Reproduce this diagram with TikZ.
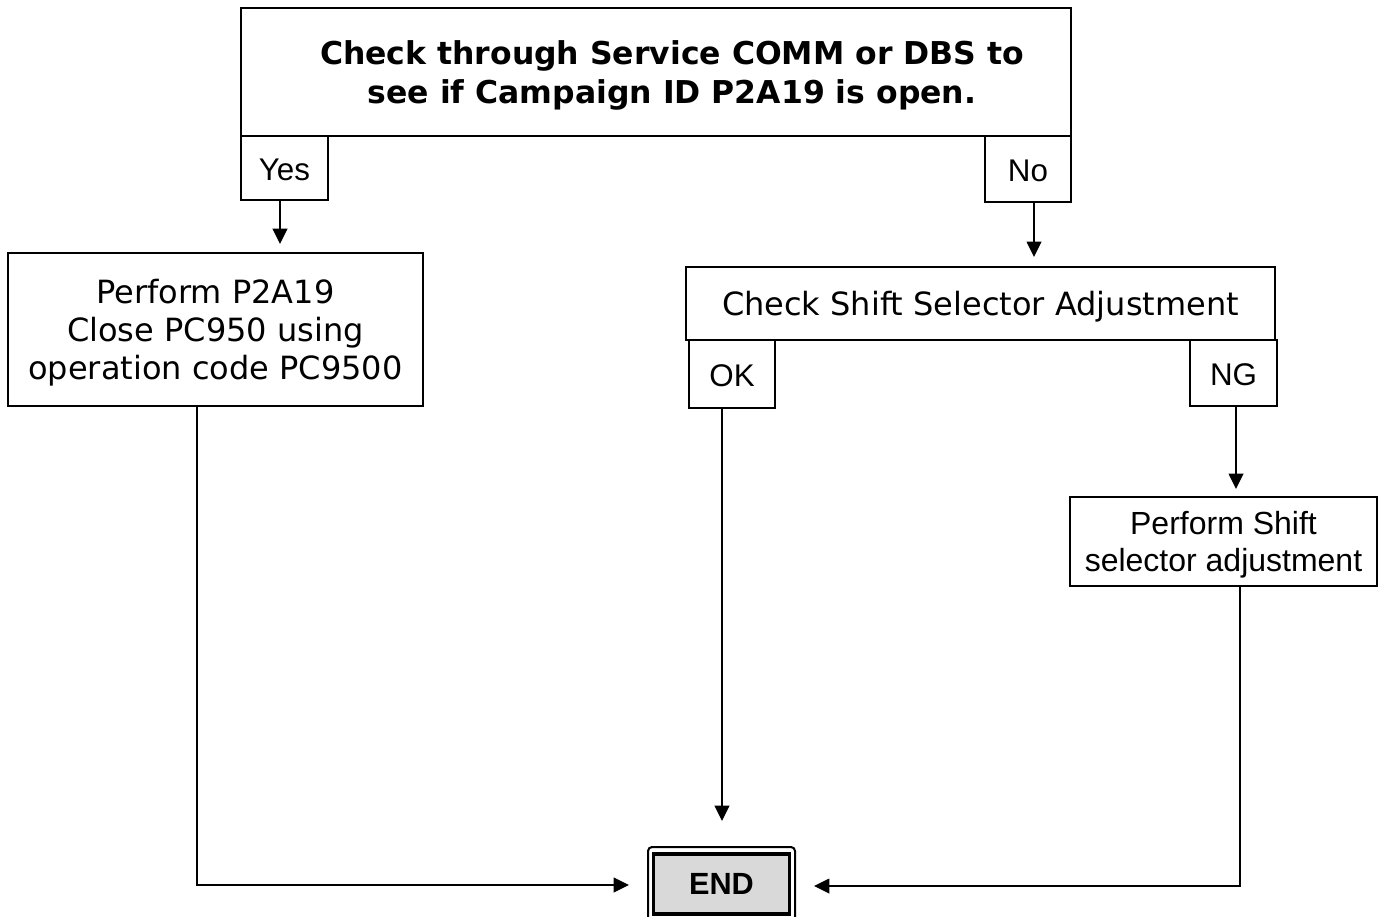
\documentclass[tikz,border=0pt]{standalone}
\usepackage{fontspec}
\newfontfamily\vfont{DejaVu Sans}
\newfontfamily\afont{Liberation Sans}
\usetikzlibrary{arrows.meta}
\tikzset{
  box/.style={draw, line width=1.2pt, inner sep=0pt},
  vlab/.style={align=center, inner sep=0pt, yshift=-2.6pt, font=\vfont\fontsize{24pt}{28.5pt}\selectfont},
  alab/.style={align=center, inner sep=0pt, yshift=-1.5pt, font=\afont\fontsize{23.5pt}{27.75pt}\selectfont},
  arr/.style={line width=1.2pt, -{Triangle[length=11.5pt,width=11pt]}},
}
\begin{document}
\begin{tikzpicture}[x=0.75pt,y=-0.75pt]
\useasboundingbox (0,0) rectangle (1385,917);
% top decision
\node[box, minimum width=622.5pt, minimum height=96pt,
  label={[align=center, inner sep=0pt, xshift=12pt, yshift=-2.4pt, font=\vfont\bfseries\fontsize{23.6pt}{29pt}\selectfont]center:{Check through Service COMM or DBS to\\see if Campaign ID P2A19 is open.}}] (top) at (656,72) {};
\node[box, minimum width=65.25pt, minimum height=48pt, label={[alab]center:Yes}] (yes) at (284.5,168) {};
\node[box, minimum width=64.5pt, minimum height=49.5pt, label={[alab]center:No}] (no) at (1028,169) {};
% left process
\node[box, minimum width=311.25pt, minimum height=114.75pt,
  label={[vlab]center:{Perform P2A19\\Close PC950 using\\operation code PC9500}}] (perf) at (215.5,329.5) {};
% check shift
\node[box, minimum width=441.75pt, minimum height=54.75pt,
  label={[vlab]center:{Check Shift Selector Adjustment}}] (chk) at (980.5,303.5) {};
\node[box, minimum width=64.5pt, minimum height=51pt, label={[alab]center:OK}] (ok) at (732,374) {};
\node[box, minimum width=65.25pt, minimum height=49.5pt, label={[alab]center:NG}] (ng) at (1233.5,373) {};
\node[box, minimum width=230.25pt, minimum height=66.75pt,
  label={[alab, yshift=-0.8pt, font=\afont\fontsize{24pt}{27.75pt}\selectfont]center:{Perform Shift\\selector adjustment}}] (pshift) at (1223.5,541.5) {};
% END
\node[draw, line width=1.5pt, rounded corners=3pt, minimum width=110.25pt, minimum height=58.5pt, inner sep=0pt] (endout) at (721.5,886) {};
\node[draw, line width=2.4pt, fill={rgb,255:red,217;green,217;blue,217}, minimum width=102pt, minimum height=45pt, inner sep=0pt,
  font=\afont\bfseries\fontsize{23pt}{27pt}\selectfont] (endbox) at (721.5,884) {END};
% free ends
\coordinate (yesend) at (280,244);
\coordinate (noend) at (1034,257);
\coordinate (okend) at (722,821);
\coordinate (ngend) at (1236,489);
\coordinate (lend) at (629,885);
\coordinate (rend) at (814,886);
% connectors
\draw[arr] (yes.south -| yesend) -- (yesend);
\draw[arr] (no.south -| noend) -- (noend);
\draw[arr] (ok.south -| okend) -- (okend);
\draw[arr] (ng.south -| ngend) -- (ngend);
\draw[arr] (perf.south -| 197,0) |- (lend);
\draw[arr] (pshift.south -| 1240,0) |- (rend);
\end{tikzpicture}
\end{document}
